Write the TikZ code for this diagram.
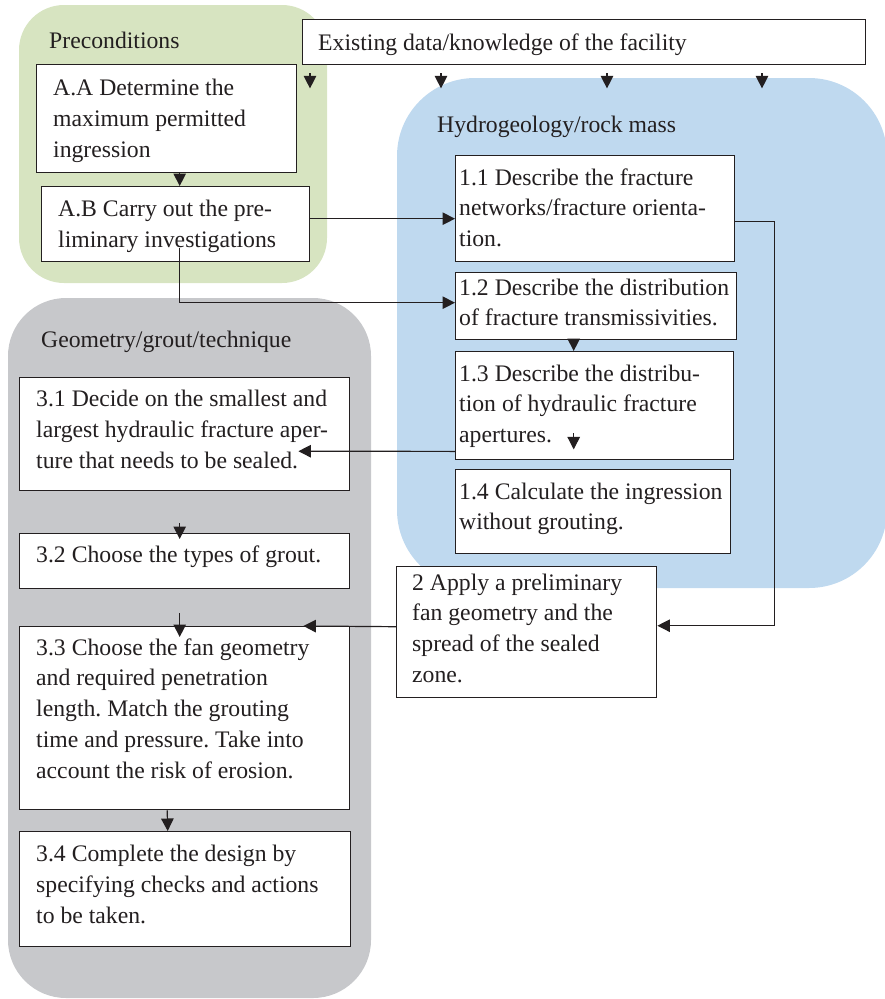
\documentclass[tikz,border=0pt]{standalone}
\usepackage{fontspec}
\setmainfont{Liberation Serif}
\newfontfamily\diagfont{Liberation Serif}
\usetikzlibrary{arrows.meta}
\definecolor{greenreg}{RGB}{215,228,193}
\definecolor{bluereg}{RGB}{191,217,239}
\definecolor{grayreg}{RGB}{199,200,203}
\definecolor{ink}{RGB}{35,31,32}
\frenchspacing
\begin{document}
\begin{tikzpicture}[x=1pt,y=-1pt,
  region/.style={rounded corners=#1},
  box/.style={draw=ink, line width=1.4pt, fill=white, inner sep=0pt, anchor=north west},
  txt/.style={inner sep=0pt, anchor=north west, align=left, text=ink,
    font=\diagfont\frenchspacing\fontsize{23.7}{30.8}\selectfont},
  arr/.style={draw=ink, line width=1.2pt, -{Triangle[length=12.5pt,width=12.5pt]}}]
\useasboundingbox (0,0) rectangle (884,999);
% regions
\fill[greenreg, region=45] (19,5) rectangle (327,283);
\fill[bluereg, region=78] (397,78) rectangle (887,588);
\fill[grayreg, region=58] (8,298) rectangle (371,998);
% titles
\node[txt] (tpre) at (49,26.4) {\strut Preconditions};
\node[txt] (thyd) at (437,110.4) {\strut Hydrogeology/rock mass};
\node[txt] (tgeo) at (41,325.4) {\strut Geometry/grout/technique};
% boxes
\node[box, minimum width=563, minimum height=45] (ex) at (302,19) {};
\node[txt] (ext) at (318,28.4) {\strut Existing data/knowledge of the facility};
\node[box, minimum width=260, minimum height=108] (aa) at (36,64) {};
\node[txt] (aat) at (53,74.1) {\strut A.A Determine the\\maximum permitted\\ingression};
\node[box, minimum width=268, minimum height=75] (ab) at (41,186) {};
\node[txt] (abt) at (58,195.1) {\strut A.B Carry out the pre-\\liminary investigations};
\node[box, minimum width=279, minimum height=106] (h11) at (455,155) {};
\node[txt] (h11t) at (459,163.4) {\strut 1.1 Describe the fracture\\networks/fracture orienta-\\tion.};
\node[box, minimum width=281, minimum height=67] (h12) at (455,272) {};
\node[txt] (h12t) at (459,273.4) {\strut 1.2 Describe the distribution\\of fracture transmissivities.};
\node[box, minimum width=278, minimum height=108] (h13) at (455,351) {};
\node[txt] (h13t) at (459,359.4) {\strut 1.3 Describe the distribu-\\tion of hydraulic fracture\\apertures.};
\node[box, minimum width=275, minimum height=84] (h14) at (455,469) {};
\node[txt] (h14t) at (459,477.4) {\strut 1.4 Calculate the ingression\\without grouting.};
\node[box, minimum width=260, minimum height=131] (b2) at (396,566) {};
\node[txt] (b2t) at (412,568.4) {\strut 2 Apply a preliminary\\fan geometry and the\\spread of the sealed\\zone.};
\node[box, minimum width=330, minimum height=113] (s31) at (19,377) {};
\node[txt] (s31t) at (36,385.1) {\strut 3.1 Decide on the smallest and\\largest hydraulic fracture aper-\\ture that needs to be sealed.};
\node[box, minimum width=330, minimum height=55] (s32) at (19,533) {};
\node[txt] (s32t) at (36,541.1) {\strut 3.2 Choose the types of grout.};
\node[box, minimum width=330, minimum height=183] (s33) at (19,626) {};
\node[txt] (s33t) at (36,633.4) {\strut 3.3 Choose the fan geometry\\and required penetration\\length. Match the grouting\\time and pressure. Take into\\account the risk of erosion.};
\node[box, minimum width=331, minimum height=115] (s34) at (19,831) {};
\node[txt] (s34t) at (36,840.1) {\strut 3.4 Complete the design by\\specifying checks and actions\\to be taken.};
% helper coordinates
\coordinate (t31) at ([xshift=-52pt,yshift=-17pt]s31.east);
\coordinate (t33) at ([xshift=-47pt]s33.north east);
% connectors
\foreach \dx in {8,139,305,460}
  \draw[arr] ([xshift=\dx pt,yshift=-8pt]ex.south west) -- ++(0,15);
\draw[arr] ([xshift=13pt]aa.south) -- ([xshift=13pt]aa.south |- ab.north);
\draw[arr] ([yshift=5.5pt]ab.east) -- ([yshift=5.5pt]ab.east -| h11.west);
\draw[arr] ([xshift=4pt,yshift=14pt]ab.south) |- ([yshift=3.5pt]h12.west);
\draw[arr] ([xshift=-22.5pt]h12.south) -- ([xshift=-22.5pt]h12.south |- h13.north);
\draw[arr] ([xshift=-21pt,yshift=27pt]h13.south) -- ++(0,16);
\draw[arr] ([yshift=9pt]h13.south west) -- (t31);
\draw[arr] ([yshift=-13pt]h11.east) -| ([xshift=117pt,yshift=6.5pt]b2.east) -- ([yshift=6.5pt]b2.east);
\draw[arr] ([yshift=5.5pt]b2.west) -- (t33);
\draw[arr] ([xshift=-5pt,yshift=10pt]s32.north) -- ([xshift=-5pt,yshift=-6pt]s32.north);
\draw[arr] ([xshift=-5pt,yshift=13pt]s33.north) -- ([xshift=-5pt,yshift=-11pt]s33.north);
\draw[arr] ([xshift=-17.5pt]s33.south) -- ([xshift=-17.5pt]s34.north);
\end{tikzpicture}
\end{document}
